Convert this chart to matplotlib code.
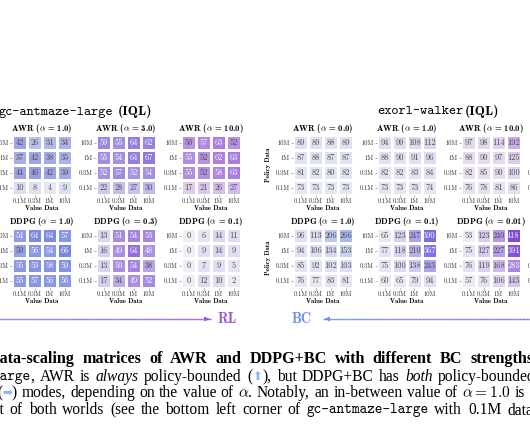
import numpy as np
import matplotlib.pyplot as plt
from matplotlib.colors import LinearSegmentedColormap, Normalize, to_rgb
from matplotlib.collections import LineCollection
from matplotlib.patches import FancyArrowPatch

plt.rcParams['mathtext.fontset'] = 'cm'

# ---- data ----
policy_labels = ['10M', '1M', '0.3M', '0.1M']
value_labels = ['0.1M', '0.3M', '1M', '10M']

# gc-antmaze-large (IQL)
ant_awr_alphas = ['1.0', '3.0', '10.0']
ant_awr = [
    [[42, 26, 31, 34], [37, 42, 38, 35], [44, 46, 42, 39], [10, 8, 4, 9]],
    [[59, 55, 64, 62], [55, 54, 64, 67], [52, 57, 52, 54], [22, 28, 27, 30]],
    [[50, 57, 63, 52], [55, 52, 62, 63], [55, 52, 58, 63], [17, 21, 26, 27]],
]
ant_ddpg_alphas = ['1.0', '0.3', '0.1']
ant_ddpg = [
    [[54, 64, 64, 57], [50, 56, 54, 66], [55, 59, 58, 59], [55, 57, 56, 56]],
    [[13, 51, 54, 53], [16, 49, 64, 48], [13, 50, 54, 38], [17, 34, 49, 52]],
    [[0, 6, 14, 11], [0, 9, 14, 9], [0, 7, 9, 5], [0, 12, 10, 2]],
]

# exorl-walker (IQL)
walker_awr_alphas = ['0.0', '1.0', '10.0']
walker_awr = [
    [[89, 89, 88, 89], [87, 88, 87, 87], [81, 82, 80, 82], [73, 73, 73, 73]],
    [[94, 99, 108, 112], [88, 90, 91, 96], [82, 82, 83, 84], [73, 73, 73, 74]],
    [[97, 98, 114, 192], [88, 90, 97, 125], [82, 85, 90, 100], [76, 78, 81, 86]],
]
walker_ddpg_alphas = ['1.0', '0.1', '0.01']
walker_ddpg = [
    [[96, 113, 206, 266], [94, 106, 134, 153], [85, 92, 102, 103], [76, 77, 83, 81]],
    [[65, 123, 247, 390], [77, 118, 210, 367], [75, 100, 138, 243], [60, 65, 79, 94]],
    [[53, 123, 240, 418], [75, 127, 227, 391], [76, 119, 168, 283], [57, 76, 106, 143]],
]

# ---- style ----
LIGHT = '#eeeef4'
BLUE = '#6b8ee8'
PURPLE = '#9b55d8'
ant_awr_colors = ['#6470de', '#8a70dc', '#a06cdc']
ant_ddpg_colors = ['#6e7ee0', '#8a62d8', '#9869db']
walker_awr_colors = ['#5b7be6', '#6d6de1', '#8c48d7']
walker_ddpg_colors = ['#7792ea', '#6e62e1', '#8048d8']

W, H = 530, 442
fig = plt.figure(figsize=(W / 100, H / 100), dpi=100)


def fx(x):
    return x / W


def fy(y):
    return 1 - y / H


def lum(c):
    r = np.array(c[:3])
    r = np.where(r <= 0.03928, r / 12.92, ((r + 0.055) / 1.055) ** 2.4)
    return 0.2126 * r[0] + 0.7152 * r[1] + 0.0722 * r[2]


def style_ticks(ax):
    ax.set_xticks(np.arange(4) + 0.5, value_labels, fontsize=4.6, fontfamily='cmr10')
    ax.set_yticks(np.arange(4) + 0.5, policy_labels, fontsize=4.6, fontfamily='cmr10')
    ax.tick_params(length=1.5, width=0.4, pad=1, color='#666', labelcolor='#333')
    for s in ax.spines.values():
        s.set_visible(False)


def heatmap(x0, y0, data, color, vmin, vmax, title, ylabel=False):
    ax = fig.add_axes([fx(x0), fy(y0 + 60), 60 / W, 60 / H])
    arr = np.array(data)
    cmap = LinearSegmentedColormap.from_list('c', [LIGHT, color])
    norm = Normalize(vmin, vmax)
    ax.pcolormesh(arr, cmap=cmap, norm=norm, edgecolors='white', linewidth=0.8)
    ax.set_xlim(0, 4)
    ax.set_ylim(4, 0)
    for i in range(4):
        for j in range(4):
            c = cmap(norm(arr[i, j]))
            tc = 'white' if lum(c) < 0.35 else '#4a4a4a'
            ax.text(j + 0.5, i + 0.52, str(arr[i, j]), ha='center', va='center',
                    fontsize=6, fontfamily='cmr10', color=tc)
    style_ticks(ax)
    ax.set_title(title, fontsize=6.2, fontfamily='cmb10', pad=2.5)
    ax.set_xlabel('Value Data', fontsize=4.8, fontfamily='cmb10', labelpad=0.5)
    if ylabel:
        ax.set_ylabel('Policy Data', fontsize=4.8, fontfamily='cmb10')
        ax.yaxis.set_label_coords(-0.37, 0.5)
    return ax


def empty_heatmap(x0, y0):
    ax = fig.add_axes([fx(x0), fy(y0 + 60), 60 / W, 60 / H])
    ax.set_xlim(0, 4)
    ax.set_ylim(4, 0)
    style_ticks(ax)


rows_y = [135, 228]
ant_x = [12, 96, 181]
walker_x = [293, 377, 461]

for k in range(3):
    heatmap(ant_x[k], rows_y[0], ant_awr[k], ant_awr_colors[k], 0, 72,
            'AWR ($\\alpha$ = %s)' % ant_awr_alphas[k])
    heatmap(ant_x[k], rows_y[1], ant_ddpg[k], ant_ddpg_colors[k], 0, 72,
            'DDPG ($\\alpha$ = %s)' % ant_ddpg_alphas[k])
    heatmap(walker_x[k], rows_y[0], walker_awr[k], walker_awr_colors[k], 50, 418,
            'AWR ($\\alpha$ = %s)' % walker_awr_alphas[k], ylabel=(k == 0))
    heatmap(walker_x[k], rows_y[1], walker_ddpg[k], walker_ddpg_colors[k], 50, 418,
            'DDPG ($\\alpha$ = %s)' % walker_ddpg_alphas[k], ylabel=(k == 0))
# next column of the walker block, cut off by the crop
empty_heatmap(545, rows_y[0])
empty_heatmap(545, rows_y[1])

# group titles
fig.text(fx(-1), fy(112), 'gc-antmaze-large', fontsize=9.8, fontfamily='cmtt10', va='center')
fig.text(fx(118), fy(112), '(IQL)', fontsize=9.8, fontfamily='cmb10', va='center')
fig.text(fx(377), fy(112), 'exorl-walker', fontsize=9.8, fontfamily='cmtt10', va='center')
fig.text(fx(465), fy(112), '(IQL)', fontsize=9.8, fontfamily='cmb10', va='center')


# gradient arrows
def grad_arrow(x_tail, x_head, y, c_tail, c_head, n=200):
    xs = np.linspace(x_tail, x_head, n + 1)
    pts = np.column_stack([fx(xs), np.full_like(xs, fy(y))])
    segs = np.stack([pts[:-1], pts[1:]], axis=1)
    a, b = np.array(to_rgb(c_tail)), np.array(to_rgb(c_head))
    cols = [a + (b - a) * t for t in np.linspace(0, 1, n)]
    fig.add_artist(LineCollection(segs, colors=cols, linewidths=1.0,
                                  transform=fig.transFigure))
    d = np.sign(x_head - x_tail)
    fig.add_artist(FancyArrowPatch((fx(x_head - d * 6), fy(y)), (fx(x_head + d * 1), fy(y)),
                                   arrowstyle='-|>', mutation_scale=6, color=c_head,
                                   lw=0.8, transform=fig.transFigure))


grad_arrow(-90, 211, 319, BLUE, PURPLE)
fig.text(fx(218), fy(319), 'RL', fontsize=10.2, fontfamily='cmb10', color=PURPLE, va='center')
grad_arrow(620, 323, 319, PURPLE, BLUE)
fig.text(fx(292), fy(319), 'BC', fontsize=10.2, fontfamily='cmb10', color=BLUE, va='center')

# caption: justified lines, cut by the crop on both sides
FS = 11.2
styles = {
    'b': dict(fontfamily='Liberation Serif', fontweight='bold', fontsize=11.6),
    'r': dict(fontfamily='Liberation Serif', fontsize=FS),
    'i': dict(fontfamily='Liberation Serif', fontstyle='italic', fontsize=FS),
    'tt': dict(fontfamily='cmtt10', fontsize=10.5),
    'icon': dict(fontfamily='DejaVu Sans', fontsize=8.5, color='#8fb3f2'),
}


def W_(*pieces):
    return list(pieces)


caption = [
    (359, ('start', -11), 470, [
        W_(('Data-scaling', 'b')), W_(('matrices', 'b')), W_(('of', 'b')), W_(('AWR', 'b')),
        W_(('and', 'b')), W_(('DDPG+BC', 'b')), W_(('with', 'b')), W_(('different', 'b')),
        W_(('BC', 'b')), W_(('strengths.', 'b'))]),
    (377, ('start', -7.5), 438, [
        W_(('large', 'tt'), (',', 'r')), W_(('AWR', 'r')), W_(('is', 'r')),
        W_(('always', 'i')), W_(('policy-bounded', 'r')),
        W_(('(', 'r'), ('\u2b06', 'icon'), ('),', 'r')), W_(('but', 'r')),
        W_(('DDPG+BC', 'r')), W_(('has', 'r')), W_(('both', 'i')),
        W_(('policy-bounded', 'r'))]),
    (393, ('start', -3), 515, [
        W_(('(', 'r'), ('\u27a1', 'icon'), (')', 'r')), W_(('modes,', 'r')),
        W_(('depending', 'r')), W_(('on', 'r')), W_(('the', 'r')), W_(('value', 'r')),
        W_(('of', 'r')), W_(('$\\alpha$.', 'r')), W_(('Notably,', 'r')), W_(('an', 'r')),
        W_(('in-between', 'r')), W_(('value', 'r')), W_(('of', 'r')),
        W_(('$\\alpha = 1.0$', 'r')), W_(('is', 'r'))]),
    (410, ('end', 4), 507, [
        W_(('best', 'r')), W_(('of', 'r')), W_(('both', 'r')), W_(('worlds', 'r')),
        W_(('(see', 'r')), W_(('the', 'r')), W_(('bottom', 'r')), W_(('left', 'r')),
        W_(('corner', 'r')), W_(('of', 'r')), W_(('gc-antmaze-large', 'tt')),
        W_(('with', 'r')), W_(('0.1M', 'r')), W_(('data).', 'r'))]),
]

renderer = fig.canvas.get_renderer()
for y, (kind, x_first), x_last, words in caption:
    placed = []
    for word in words:
        pieces = []
        for txt, st in word:
            t = fig.text(0, fy(y), txt, va='center', ha='left', **styles[st])
            w = t.get_window_extent(renderer).width
            pieces.append((t, w))
        placed.append(pieces)
    widths = [sum(w for _, w in p) for p in placed]
    start = x_first if kind == 'start' else x_first - widths[0]
    gap = (x_last - start - sum(widths[:-1])) / (len(placed) - 1)
    x = start
    for pieces, wsum in zip(placed, widths):
        xx = x
        for t, w in pieces:
            t.set_x(fx(xx))
            xx += w
        x += wsum + gap

fig.savefig('out.png', dpi=100)
